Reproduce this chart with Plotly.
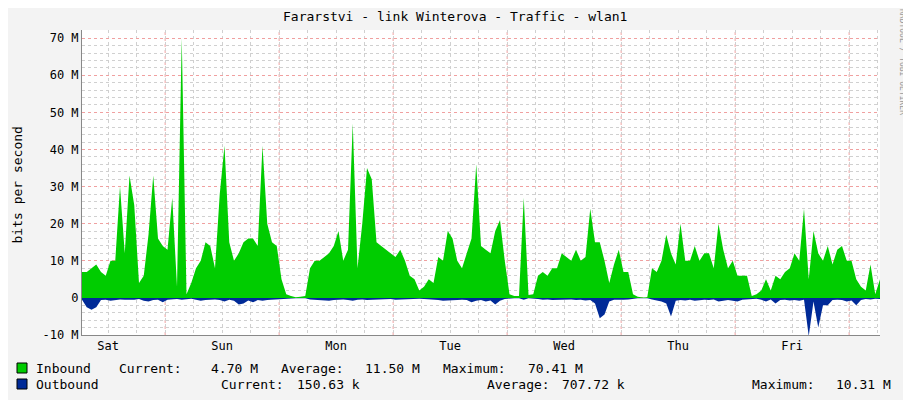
import plotly.graph_objects as go

# hourly samples, starting Sat 06:30, values in Mbit/s
hours = list(range(169))
inbound = [7, 7, 8, 9, 7, 6, 10, 10, 30, 12, 33, 25, 4, 6, 17, 33, 16, 14, 13, 27,
           3, 70, 1, 4, 8, 10, 15, 14, 8, 28, 41, 15, 10, 12, 15, 16, 16, 14, 41, 20,
           15, 14, 5, 1, 0.5, 0.2, 0.3, 0.5, 8, 10, 10, 11, 12, 14, 18, 10, 13, 47, 8, 20,
           35, 32, 15, 14, 13, 12, 11, 13, 10, 6, 5, 2, 3, 5, 4, 11, 10, 18, 16, 10,
           8, 12, 16, 36, 14, 13, 12, 18, 21, 10, 1, 0.5, 0.5, 27, 0.8, 1, 6, 7, 6, 8,
           8, 12, 11, 10, 13, 10, 11, 24, 15, 15, 10, 4, 9, 13, 7, 7, 1, 0.3, 0.1, 0.2,
           8, 7, 10, 17, 12, 9, 20, 10, 10, 14, 10, 12, 12, 8, 20, 13, 8, 10, 6, 6,
           6, 0.5, 1, 2, 5, 2, 6, 5, 7, 8, 12, 10, 24, 5, 18, 12, 10, 14, 9, 13,
           14, 10, 10, 5, 3, 2, 9, 1, 5]
outbound = [-0.5, -2.5, -3.2, -2.5, -0.6, -0.5, -0.8, -0.5, -0.4, -0.5, -0.6, -0.5, -0.3, -0.8, -1, -0.6, -0.5, -1.2, -0.5, -0.4,
            -0.3, -0.5, -0.4, -0.2, -0.5, -0.8, -0.6, -0.5, -0.4, -0.6, -1, -0.5, -0.8, -1.8, -1.5, -0.7, -1.2, -0.6, -0.8, -0.6,
            -0.5, -0.4, -0.3, -0.1, -0.1, -0.1, -0.1, -0.1, -0.4, -0.5, -0.6, -0.5, -0.8, -0.6, -0.5, -0.4, -0.6, -0.8, -0.5, -0.4,
            -0.6, -0.5, -0.4, -0.5, -0.4, -0.3, -0.5, -0.4, -0.3, -0.2, -0.3, -0.2, -0.3, -0.4, -0.3, -0.6, -0.8, -0.7, -0.6, -0.5,
            -0.5, -0.6, -1.2, -0.8, -0.6, -1, -0.7, -1.8, -0.8, -0.3, -0.1, -0.1, -0.1, -0.5, -0.1, -0.1, -0.3, -0.5, -0.4, -0.6,
            -0.5, -0.6, -0.5, -0.4, -0.6, -0.5, -0.7, -0.6, -1.5, -5.5, -4.5, -1, -0.5, -0.6, -0.5, -0.4, -0.2, -0.1, -0.1, -0.1,
            -0.4, -0.6, -1, -1.5, -5, -0.8, -0.6, -0.7, -0.5, -0.8, -0.6, -0.5, -0.6, -0.4, -1, -0.8, -0.6, -0.8, -1, -0.5,
            -0.4, -0.1, -0.2, -0.5, -1, -0.4, -1.5, -0.6, -0.5, -0.7, -0.6, -0.8, -0.5, -10.3, -1, -8, -2, -2, -0.6, -0.5,
            -0.6, -1, -0.7, -2, -0.6, -0.3, -0.4, -0.2, -0.3]

day_labels = ["Sat", "Sun", "Mon", "Tue", "Wed", "Thu", "Fri"]
day_noon = [5.5, 29.5, 53.5, 77.5, 101.5, 125.5, 149.5]
midnights = [17.5, 41.5, 65.5, 89.5, 113.5, 137.5, 161.5]
y_ticks = [-10, 0, 10, 20, 30, 40, 50, 60, 70]
y_text = ["-10 M", "0", "10 M", "20 M", "30 M", "40 M", "50 M", "60 M", "70 M"]

mono = "DejaVu Sans Mono"
OFF = 8  # page body margin
W, H = 911, 400
L, T = 82 - OFF, 30 - OFF
R = W - (880 - OFF)
B = H - (335 - OFF)
pw = W - L - R
ph = H - T - B


def px(x):
    return (x - OFF - L) / pw


def py(y):
    return (H - B - (y - OFF)) / ph


fig = go.Figure()
fig.add_trace(go.Scatter(x=hours, y=inbound, fill="tozeroy", mode="lines",
                         line=dict(width=0), fillcolor="#00CC00", name="Inbound"))
fig.add_trace(go.Scatter(x=hours, y=outbound, fill="tozeroy", mode="lines",
                         line=dict(width=0), fillcolor="#002A97", name="Outbound"))

for m in midnights:
    fig.add_vline(x=m, line=dict(color="#F0A0A0", width=1, dash="dot"), layer="below")

fig.update_layout(
    width=W, height=H, margin=dict(l=L, r=R, t=T, b=B, autoexpand=False),
    paper_bgcolor="#F3F3F3", plot_bgcolor="white", showlegend=False,
    font=dict(family=mono, size=12, color="#000"),
    xaxis=dict(range=[0, 168], tickvals=day_noon, ticktext=day_labels, showgrid=False,
               showline=True, linecolor="#888", ticks="", zeroline=False, automargin=False,
               minor=dict(dtick=6, tick0=5.5, showgrid=True, gridcolor="#D0D0D0",
                          griddash="dot", ticks="")),
    yaxis=dict(range=[-10, 72.2], tickvals=y_ticks, ticktext=y_text, showgrid=True,
               gridcolor="#F0A0A0", griddash="dot", zeroline=False, showline=True,
               linecolor="#888", ticks="", automargin=False,
               minor=dict(dtick=2, showgrid=True, gridcolor="#D0D0D0", griddash="dot")),
)

fig.add_annotation(x=px(455), y=py(8), xref="paper", yref="paper",
                   text="Fararstvi - link Winterova - Traffic - wlan1", borderpad=0,
                   showarrow=False, xanchor="center", yanchor="top", font=dict(size=13))
fig.add_annotation(x=px(8), y=py(185), xref="paper", yref="paper", text="bits per second",
                   textangle=-90, showarrow=False, xanchor="left", yanchor="middle",
                   borderpad=0, font=dict(size=13))

legend_rows = [
    (368, "#00CC00", [(34, "Inbound", "left"), (117, "Current:", "left"), (260, "4.70 M", "right"),
                      (279, "Average:", "left"), (422, "11.50 M", "right"),
                      (441, "Maximum:", "left"), (585, "70.41 M", "right")]),
    (384, "#002A97", [(34, "Outbound", "left"), (219, "Current:", "left"), (362, "150.63 k", "right"),
                      (485, "Average:", "left"), (627, "707.72 k", "right"),
                      (750, "Maximum:", "left"), (893, "10.31 M", "right")]),
]
for yy, col, items in legend_rows:
    yp = py(yy)
    fig.add_shape(type="rect", xref="paper", yref="paper",
                  x0=px(17), x1=px(27), y0=yp - 5 / ph, y1=yp + 5 / ph,
                  fillcolor=col, line=dict(color="#000", width=1))
    for xx, txt, anc in items:
        fig.add_annotation(x=px(xx), y=yp, xref="paper", yref="paper", text=txt,
                           showarrow=False, xanchor=anc, yanchor="middle",
                           font=dict(size=13))

fig.add_annotation(x=px(903), y=py(8), xref="paper", yref="paper", text="RRDTOOL / TOBI OETIKER",
                   textangle=90, showarrow=False, xanchor="center", yanchor="top",
                   borderpad=0, font=dict(size=8, color="#999"))

fig.write_html("out.html")
